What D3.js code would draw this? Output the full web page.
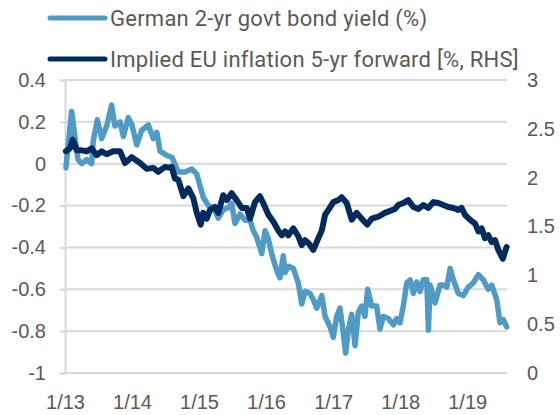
<!DOCTYPE html>
<html>
<head>
<meta charset="utf-8">
<script src="https://cdn.jsdelivr.net/npm/d3@7"></script>
<style>
  body { margin: 0; background: #fff; }
</style>
</head>
<body>
<script>
// German 2-yr govt bond yield (%), left axis
const bundDates = ["2013-01-06","2013-02-06","2013-02-24","2013-03-13","2013-04-02","2013-04-29","2013-05-26","2013-06-04","2013-06-26","2013-07-20","2013-08-16","2013-09-12","2013-09-30","2013-10-28","2013-11-15","2013-12-12","2013-12-30","2014-01-27","2014-02-23","2014-03-31","2014-04-27","2014-05-16","2014-06-03","2014-07-09","2014-08-07","2014-09-10","2014-10-17","2014-11-22","2014-12-20","2015-01-24","2015-02-21","2015-03-20","2015-04-16","2015-05-13","2015-06-10","2015-06-28","2015-07-16","2015-08-12","2015-09-09","2015-10-06","2015-10-24","2015-11-11","2015-12-09","2015-12-27","2016-01-14","2016-02-01","2016-02-28","2016-03-17","2016-04-04","2016-04-14","2016-05-02","2016-05-29","2016-06-25","2016-07-14","2016-08-01","2016-08-28","2016-09-15","2016-10-03","2016-10-31","2016-11-18","2016-12-15","2017-01-02","2017-01-20","2017-02-07","2017-02-25","2017-03-10","2017-03-24","2017-04-12","2017-04-30","2017-05-18","2017-06-05","2017-06-23","2017-07-08","2017-07-30","2017-08-26","2017-09-13","2017-10-01","2017-10-28","2017-11-25","2017-12-13","2017-12-31","2018-01-18","2018-02-06","2018-02-24","2018-03-14","2018-04-01","2018-04-19","2018-05-07","2018-05-26","2018-06-04","2018-06-13","2018-07-10","2018-08-06","2018-08-24","2018-09-12","2018-09-30","2018-10-18","2018-11-14","2018-12-11","2019-01-07","2019-02-03","2019-03-03","2019-03-30","2019-04-26","2019-05-15","2019-06-11","2019-06-29","2019-07-17","2019-08-04"];
const bundYield = [-0.02,0.25,0.13,0.02,0.0,0.02,0.0,0.11,0.21,0.12,0.18,0.28,0.18,0.2,0.13,0.22,0.19,0.09,0.16,0.185,0.12,0.15,0.06,0.04,0.03,-0.04,-0.04,-0.025,-0.05,-0.16,-0.2,-0.21,-0.26,-0.22,-0.21,-0.19,-0.285,-0.24,-0.27,-0.27,-0.32,-0.35,-0.43,-0.32,-0.36,-0.43,-0.51,-0.545,-0.44,-0.52,-0.49,-0.5,-0.57,-0.67,-0.61,-0.62,-0.65,-0.69,-0.63,-0.73,-0.78,-0.83,-0.73,-0.69,-0.81,-0.905,-0.795,-0.72,-0.87,-0.71,-0.68,-0.73,-0.6,-0.68,-0.68,-0.79,-0.73,-0.74,-0.77,-0.74,-0.76,-0.68,-0.57,-0.555,-0.62,-0.565,-0.61,-0.555,-0.555,-0.795,-0.58,-0.665,-0.58,-0.58,-0.59,-0.5,-0.555,-0.62,-0.63,-0.59,-0.57,-0.53,-0.555,-0.6,-0.58,-0.65,-0.76,-0.745,-0.78];

// Implied EU inflation 5-yr forward (%), right axis
const inflDates = ["2013-01-06","2013-01-28","2013-02-12","2013-03-06","2013-04-02","2013-04-29","2013-05-26","2013-06-23","2013-07-20","2013-08-16","2013-09-21","2013-10-28","2013-11-24","2013-12-30","2014-02-14","2014-03-22","2014-04-27","2014-05-24","2014-06-30","2014-07-27","2014-08-05","2014-08-23","2014-09-10","2014-10-08","2014-11-04","2014-12-01","2014-12-20","2015-01-10","2015-01-24","2015-02-12","2015-03-02","2015-03-29","2015-04-16","2015-05-13","2015-06-01","2015-06-28","2015-07-25","2015-08-22","2015-09-18","2015-10-06","2015-11-02","2015-11-29","2015-12-17","2016-01-14","2016-02-10","2016-03-08","2016-03-27","2016-04-14","2016-05-02","2016-05-29","2016-06-25","2016-07-14","2016-08-01","2016-08-19","2016-09-15","2016-10-03","2016-10-31","2016-11-18","2016-12-06","2017-01-02","2017-01-29","2017-02-16","2017-03-16","2017-04-12","2017-05-09","2017-06-05","2017-07-06","2017-07-30","2017-09-04","2017-10-10","2017-11-07","2017-12-04","2017-12-22","2018-01-18","2018-02-14","2018-03-14","2018-04-10","2018-05-07","2018-06-03","2018-07-01","2018-07-28","2018-08-24","2018-09-20","2018-10-18","2018-11-14","2018-12-02","2018-12-20","2019-01-16","2019-02-13","2019-03-03","2019-03-21","2019-04-08","2019-04-26","2019-05-15","2019-06-02","2019-06-20","2019-07-14","2019-07-26","2019-08-04"];
const inflForward = [2.27,2.30,2.39,2.28,2.28,2.27,2.30,2.23,2.27,2.24,2.27,2.27,2.15,2.21,2.15,2.09,2.10,2.06,2.11,2.10,2.11,1.99,1.98,1.81,1.89,1.79,1.64,1.52,1.64,1.58,1.67,1.70,1.64,1.82,1.77,1.84,1.77,1.69,1.69,1.58,1.75,1.81,1.74,1.62,1.55,1.46,1.41,1.45,1.41,1.48,1.40,1.31,1.36,1.33,1.26,1.34,1.46,1.62,1.67,1.75,1.77,1.80,1.74,1.57,1.64,1.58,1.52,1.58,1.60,1.64,1.66,1.68,1.72,1.74,1.77,1.70,1.68,1.72,1.69,1.75,1.74,1.72,1.70,1.69,1.67,1.69,1.62,1.57,1.53,1.45,1.48,1.38,1.41,1.34,1.36,1.26,1.17,1.24,1.29];

const leftTicks = [0.4, 0.2, 0, -0.2, -0.4, -0.6, -0.8, -1];
const rightTicks = [3, 2.5, 2, 1.5, 1, 0.5, 0];
const xTickDates = ["2013-01-01","2014-01-01","2015-01-01","2016-01-01","2017-01-01","2018-01-01","2019-01-01"];
const seriesNames = ["German 2-yr govt bond yield (%)", "Implied EU inflation 5-yr forward [%, RHS]"];

const width = 560, height = 415;
const margin = { top: 80, right: 53, bottom: 42, left: 65 };
const textColor = "#595959";
const gridColor = "#d9d9d9";
const colors = ["#4f9bc5", "#002b5c"];
const parse = d3.timeParse("%Y-%m-%d");
const numFmt = d => String(d); // plain hyphen, as in the source

const svg = d3.select("body").append("svg")
  .attr("width", width)
  .attr("height", height)
  .style("font-family", "Roboto, sans-serif");

const x = d3.scaleTime()
  .domain([parse("2013-01-01"), parse("2019-08-06")])
  .range([margin.left, width - margin.right]);

const yL = d3.scaleLinear().domain([-1, 0.4]).range([height - margin.bottom, margin.top]);
const yR = d3.scaleLinear().domain([0, 3]).range([height - margin.bottom, margin.top]);

// gridlines
svg.append("g")
  .selectAll("line")
  .data(leftTicks)
  .join("line")
  .attr("x1", margin.left)
  .attr("x2", width - margin.right)
  .attr("y1", d => yL(d))
  .attr("y2", d => yL(d))
  .attr("stroke", gridColor)
  .attr("stroke-width", 2);

// left axis
const leftAxis = svg.append("g")
  .attr("transform", `translate(${margin.left},0)`)
  .call(d3.axisLeft(yL).tickValues(leftTicks).tickSize(5).tickPadding(14).tickFormat(numFmt));
leftAxis.select(".domain").attr("stroke", gridColor).attr("stroke-width", 2);
leftAxis.selectAll(".tick line").attr("stroke", gridColor).attr("stroke-width", 2);
leftAxis.selectAll(".tick text").attr("fill", textColor).style("font-size", "20px");

// right axis labels only
const rightAxis = svg.append("g")
  .attr("transform", `translate(${width - margin.right},0)`)
  .call(d3.axisRight(yR).tickValues(rightTicks).tickSize(0).tickPadding(20).tickFormat(numFmt));
rightAxis.select(".domain").remove();
rightAxis.selectAll(".tick text").attr("fill", textColor).style("font-size", "20px");

// bottom axis labels
const xAxis = svg.append("g")
  .attr("transform", `translate(0,${height - margin.bottom})`)
  .call(d3.axisBottom(x).tickValues(xTickDates.map(parse)).tickSize(0).tickPadding(22)
    .tickFormat(d3.timeFormat("%-m/%y")));
xAxis.select(".domain").remove();
xAxis.selectAll(".tick text").attr("fill", textColor).style("font-size", "20px");

// lines
const bund = bundDates.map((d, i) => ({ date: parse(d), value: bundYield[i] }));
const infl = inflDates.map((d, i) => ({ date: parse(d), value: inflForward[i] }));

svg.append("path")
  .datum(bund)
  .attr("fill", "none")
  .attr("stroke", colors[0])
  .attr("stroke-width", 5.5)
  .attr("stroke-linejoin", "round")
  .attr("stroke-linecap", "round")
  .attr("d", d3.line().x(d => x(d.date)).y(d => yL(d.value)));

svg.append("path")
  .datum(infl)
  .attr("fill", "none")
  .attr("stroke", colors[1])
  .attr("stroke-width", 6)
  .attr("stroke-linejoin", "round")
  .attr("stroke-linecap", "round")
  .attr("d", d3.line().x(d => x(d.date)).y(d => yR(d.value)));

// legend
const rows = svg.append("g")
  .selectAll("g")
  .data(seriesNames)
  .join("g")
  .attr("transform", (d, i) => `translate(50,${18 + i * 41})`);

rows.append("line")
  .attr("x1", 0).attr("x2", 55)
  .attr("stroke", (d, i) => colors[i])
  .attr("stroke-width", 5)
  .attr("stroke-linecap", "round");

rows.append("text")
  .attr("x", 60)
  .attr("dy", "0.35em")
  .attr("fill", textColor)
  .style("font-size", "22px")
  .style("letter-spacing", "0.25px")
  .text(d => d);
</script>
</body>
</html>
